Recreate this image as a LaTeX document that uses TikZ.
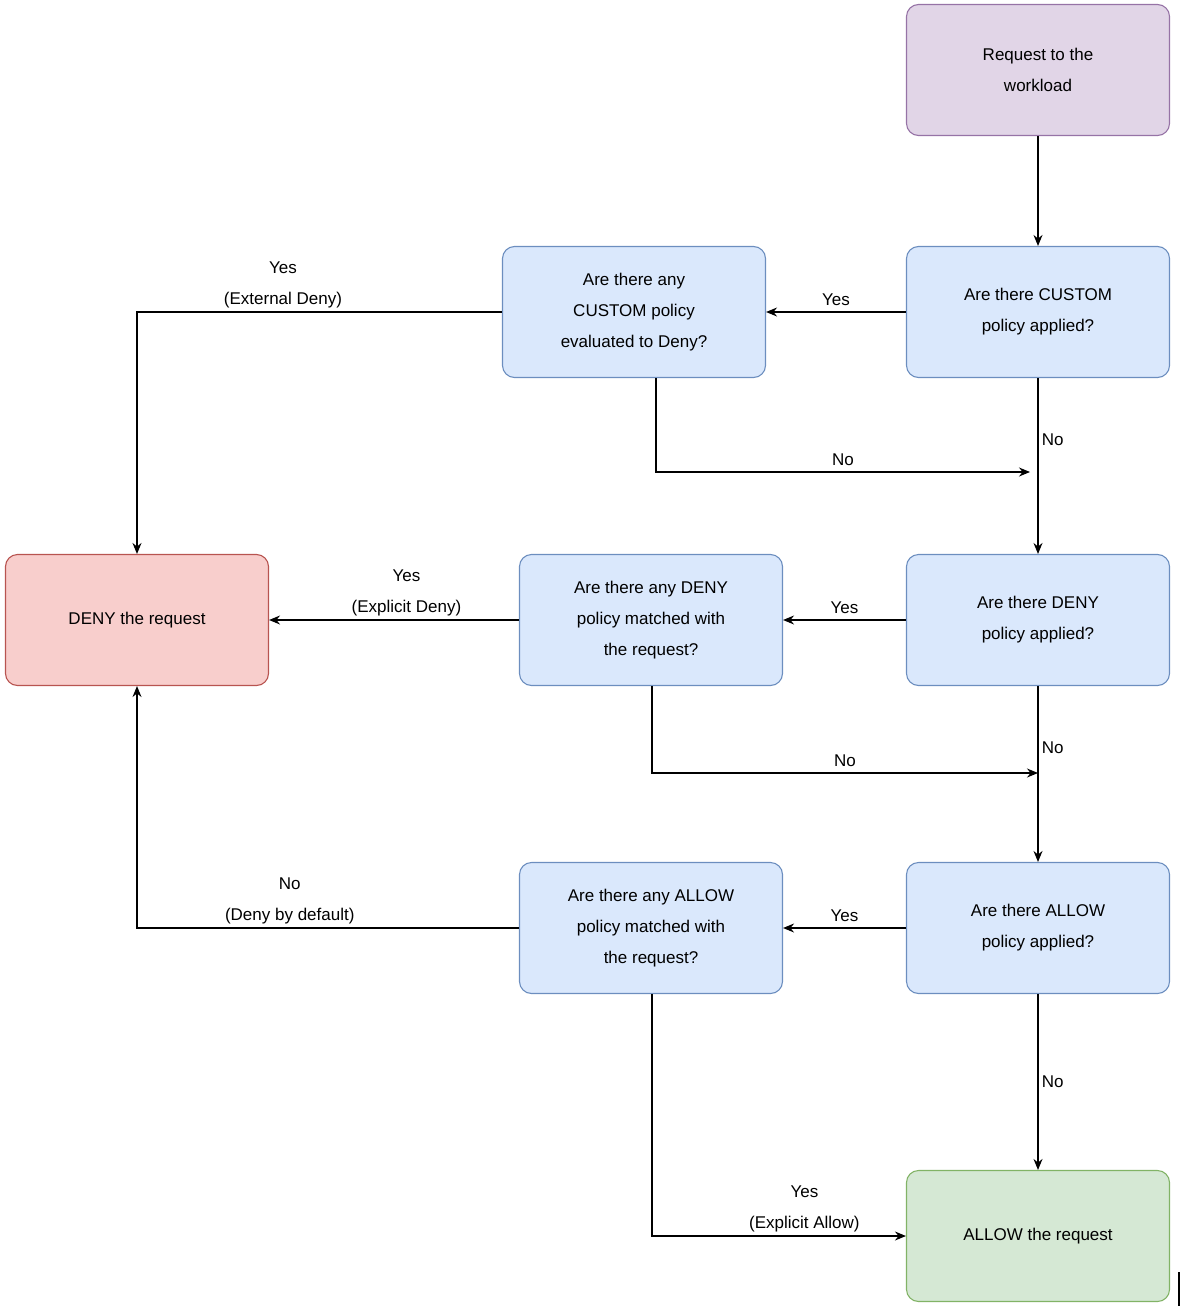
\documentclass[tikz,border=0pt]{standalone}
\usepackage{fontspec}
\setmainfont{Liberation Sans}
\usetikzlibrary{arrows.meta}
\begin{document}
\begin{tikzpicture}[x=1pt,y=-1pt,
  box/.style={draw,rounded corners=12pt,minimum width=263pt,minimum height=131pt,align=center,font=\fontsize{17}{31}\selectfont,line width=1.1pt},
  blue/.style={box,fill=blue!2!white,fill={rgb,255:red,218;green,232;blue,252},draw={rgb,255:red,108;green,142;blue,191}},
  arr/.style={line width=1.1pt,-{Stealth[length=11pt,width=9pt]}},
  lab/.style={font=\fontsize{17}{31}\selectfont,align=center}]
\useasboundingbox (0,0) rectangle (1184,1314);
\node[box,fill={rgb,255:red,225;green,213;blue,231},draw={rgb,255:red,150;green,115;blue,166}] (req) at (1038,70) {Request to the\\workload};
\node[blue] (ca) at (1038,312) {Are there CUSTOM\\policy applied?};
\node[blue] (cd) at (634,312) {Are there any\\CUSTOM policy\\evaluated to Deny?};
\node[blue] (da) at (1038,620) {Are there DENY\\policy applied?};
\node[blue] (dm) at (651,620) {Are there any DENY\\policy matched with\\the request?};
\node[box,fill={rgb,255:red,248;green,206;blue,204},draw={rgb,255:red,184;green,84;blue,80}] (deny) at (137,620) {DENY the request};
\node[blue] (aa) at (1038,928) {Are there ALLOW\\policy applied?};
\node[blue] (am) at (651,928) {Are there any ALLOW\\policy matched with\\the request?};
\node[box,fill={rgb,255:red,213;green,232;blue,212},draw={rgb,255:red,130;green,179;blue,102}] (allow) at (1038,1236) {ALLOW the request};
\coordinate (j1) at (1030,472);
\coordinate (j2) at (1038,773);
\draw[arr] (req) -- (ca);
\draw[arr] (ca) -- (cd) node[lab,midway,above,yshift=2pt] {Yes};
\draw[arr] (cd.west) -| (deny.north) node[lab,pos=0.3,above] {Yes\\(External Deny)};
\draw[arr] (cd.south -| 656,0) |- (j1) node[lab,pos=0.75,above,yshift=2pt] {No};
\draw[arr] (ca) -- (da) node[lab,pos=0.35,right] {No};
\draw[arr] (da) -- (dm) node[lab,midway,above,yshift=2pt] {Yes};
\draw[arr] (dm) -- (deny) node[lab,pos=0.45,above] {Yes\\(Explicit Deny)};
\draw[arr] (dm.south -| 652,0) |- (j2) node[lab,pos=0.75,above,yshift=2pt] {No};
\draw[arr] (da) -- (aa) node[lab,pos=0.35,right] {No};
\draw[arr] (aa) -- (am) node[lab,midway,above,yshift=2pt] {Yes};
\draw[arr] (am.west) -| (deny.south) node[lab,pos=0.3,above] {No\\(Deny by default)};
\draw[arr] (am.south -| 652,0) |- (allow.west) node[lab,pos=0.8,above] {Yes\\(Explicit Allow)};
\draw[arr] (aa) -- (allow) node[lab,midway,right] {No};
\draw[line width=2pt] (1179,1272) -- (1179,1306);
\end{tikzpicture}
\end{document}
